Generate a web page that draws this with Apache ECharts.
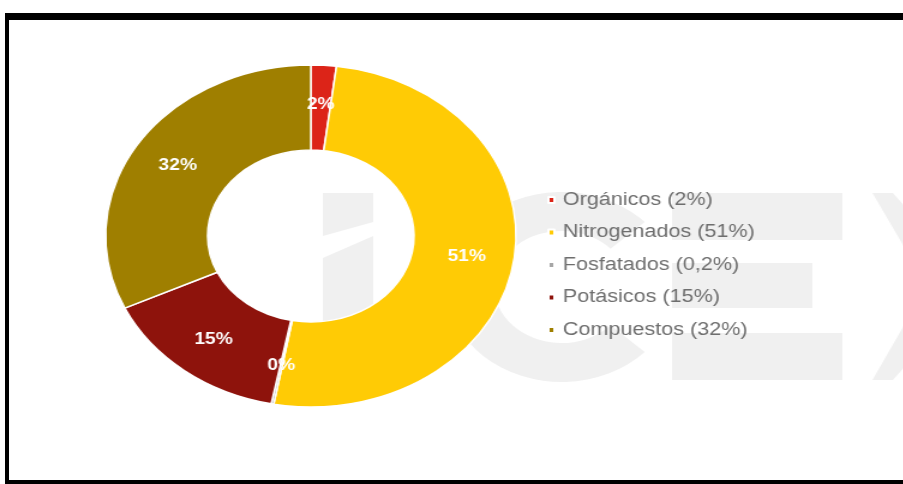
<!DOCTYPE html>
<html>
<head>
<meta charset="utf-8">
<script src="https://cdn.jsdelivr.net/npm/echarts@6/dist/echarts.min.js"></script>
<style>
    html, body { margin: 0; padding: 0; width: 903px; height: 484px; overflow: hidden; background: #fff; }
    #marco {
        position: absolute; left: 5px; top: 13px; width: 960px; height: 471px;
        box-sizing: border-box; border: 4px solid #000; border-top-width: 7px; border-right: none;
    }
    #grafico {
        position: absolute; left: 0; top: 0; width: 752.5px; height: 484px;
        transform: scaleX(1.2); transform-origin: 0 0;
    }
</style>
</head>
<body>
<div id="marco"></div>
<div id="grafico"></div>
<script>
// datos del gráfico
var categorias = ['Orgánicos', 'Nitrogenados', 'Fosfatados', 'Potásicos', 'Compuestos'];
var valores = [2, 51, 0.2, 15, 32];
var textoLeyenda = ['2%', '51%', '0,2%', '15%', '32%'];
var colores = ['#dc2418', '#ffcb05', '#a6a6a6', '#8e130c', '#9f7f00'];

var gris = '#f0f0f0';

function draw() {
    let myChart = echarts.init(document.getElementById('grafico'));

    var datos = [];
    for (var i = 0; i < categorias.length; i++) {
        datos.push({ name: categorias[i], value: valores[i], itemStyle: { color: colores[i] } });
    }

    // marca de agua (logo gris claro de fondo)
    var marca = [
        { type: 'polygon', shape: { points: [[269, 193], [311, 193], [311, 222], [269, 236]] } },
        { type: 'polygon', shape: { points: [[269, 258], [311, 236], [311, 385], [269, 385]] } },
        { type: 'sector', shape: { cx: 468, cy: 287, r0: 56, r: 95, startAngle: Math.PI * 0.24, endAngle: Math.PI * 1.76 } },
        { type: 'rect', shape: { x: 560, y: 193, width: 142, height: 47 } },
        { type: 'rect', shape: { x: 560, y: 263, width: 117, height: 45 } },
        { type: 'rect', shape: { x: 560, y: 333, width: 142, height: 47 } },
        { type: 'polygon', shape: { points: [[727, 193], [744, 193], [753, 205], [753, 246]] } },
        { type: 'polygon', shape: { points: [[727, 380], [744, 380], [753, 368], [753, 326]] } }
    ];
    marca.forEach(function (g) {
        g.style = { fill: gris };
        g.z = -10;
        g.silent = true;
    });

    option = {
        backgroundColor: 'transparent',
        animation: false,
        graphic: marca,
        legend: {
            orient: 'vertical',
            left: 451,
            top: 186,
            icon: 'rect',
            itemWidth: 5,
            itemHeight: 6,
            itemGap: 14.5,
            textStyle: {
                fontFamily: 'Liberation Sans',
                fontSize: 18,
                lineHeight: 18,
                color: '#6e6e6e',
                padding: [0, 0, 0, 2]
            },
            formatter: function (name) {
                return name + ' (' + textoLeyenda[categorias.indexOf(name)] + ')';
            },
            data: categorias
        },
        series: [
            {
                name: 'Fertilizantes',
                type: 'pie',
                center: [259, 236],
                radius: [86, 171],
                startAngle: 90,
                clockwise: true,
                avoidLabelOverlap: false,
                itemStyle: {
                    borderColor: '#fff',
                    borderWidth: 1.5
                },
                label: {
                    show: true,
                    position: 'inside',
                    color: '#fff',
                    fontFamily: 'Liberation Sans',
                    fontWeight: 'bold',
                    fontSize: 16,
                    formatter: function (p) {
                        return Math.round(p.value) + '%';
                    }
                },
                labelLine: { show: false },
                data: datos
            }
        ]
    };

    myChart.setOption(option, true);
}

draw();
</script>
</body>
</html>
